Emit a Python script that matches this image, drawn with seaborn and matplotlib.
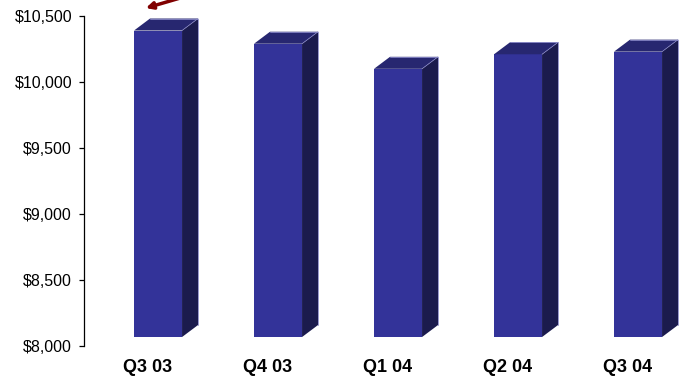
import matplotlib
matplotlib.use("Agg")
import matplotlib.pyplot as plt
import matplotlib.transforms as mtransforms
import seaborn as sns
from matplotlib.patches import Polygon
from matplotlib.ticker import FuncFormatter

# data
quarters = ["Q3 03", "Q4 03", "Q1 04", "Q2 04", "Q3 04"]
revenue = [10390, 10290, 10100, 10210, 10230]
y_ticks = [8000, 8500, 9000, 9500, 10000, 10500]

sns.set_style("white")
plt.rcParams["font.family"] = ["Liberation Sans", "DejaVu Sans"]

front_col = "#333399"
side_col = "#1b1b4d"
top_col = "#272770"
edge_col = "#8a8ac8"

fig = plt.figure(figsize=(6.94, 3.77), dpi=100)
ax = fig.add_axes([84 / 694, 31 / 377, 600 / 694, 330 / 377])

sns.barplot(x=quarters, y=revenue, color=front_col, saturation=1,
            width=0.4, ax=ax, zorder=3)

ax.set_xlim(-0.5, 4.5)
ax.set_ylim(8000, 10500)

# fake 3D: floor slightly above the axis, depth offset up and to the right
floor = 8068
dx = 16 / 120
dy = 12 * 2500 / 330
shift = -0.083
for i, (p, v) in enumerate(zip(ax.patches, revenue)):
    x0 = i + shift
    x1 = x0 + 0.4
    p.set_x(x0)
    p.set_y(floor)
    p.set_height(v - floor)
    p.set_edgecolor("none")
    side = Polygon([(x1, floor), (x1 + dx, floor + dy), (x1 + dx, v + dy), (x1, v)],
                   closed=True, facecolor=side_col, edgecolor="none", zorder=3)
    top = Polygon([(x0, v), (x0 + dx, v + dy), (x1 + dx, v + dy), (x1, v)],
                  closed=True, facecolor=top_col, edgecolor="none", zorder=3)
    ax.add_patch(side)
    ax.add_patch(top)
    ax.plot([x0 + dx, x1 + dx, x1 + dx], [v + dy, v + dy, floor + dy],
            color=edge_col, lw=0.6, zorder=4, clip_on=False)
    ax.plot([x1, x1 + dx], [v, v + dy], color=edge_col, lw=0.5, zorder=4,
            clip_on=False)

ax.set_yticks(y_ticks)
ax.yaxis.set_major_formatter(FuncFormatter(lambda v, _: f"${v:,.0f}"))
ax.tick_params(axis="y", direction="out", length=3.6, width=0.9,
               color="black", labelcolor="black", labelsize=11.5, pad=5,
               left=True)
ax.tick_params(axis="x", length=0, labelsize=13, pad=9, labelcolor="black")
nudge = mtransforms.ScaledTranslation(4 / 100, 0, fig.dpi_scale_trans)
for lab in ax.get_xticklabels():
    lab.set_fontweight("bold")
    lab.set_transform(lab.get_transform() + nudge)
ax.set_xlabel("")
ax.set_ylabel("")

for s in ["top", "right", "bottom"]:
    ax.spines[s].set_visible(False)
ax.spines["left"].set_color("black")
ax.spines["left"].set_linewidth(0.9)

# arrow pointing at the first bar, cut off at the top of the image
ax.annotate("", xy=(0.103, 1.024), xytext=(0.18, 1.065),
            xycoords="axes fraction", annotation_clip=False,
            arrowprops=dict(arrowstyle="-|>", color="#800000", lw=2.5,
                            mutation_scale=10, shrinkA=0, shrinkB=0))

fig.savefig("out.png", dpi=100)
